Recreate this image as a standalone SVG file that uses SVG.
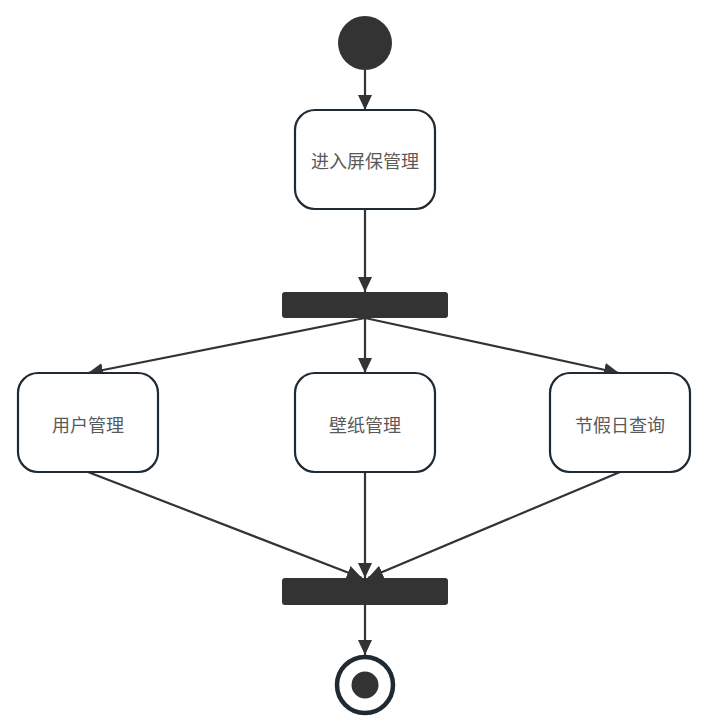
<svg xmlns="http://www.w3.org/2000/svg" width="720" height="723" viewBox="0 0 720 723">
<defs>
<style>
.act{fill:#ffffff;stroke:#1f2a33;stroke-width:2.2}
.bar{fill:#333333}
.lbl{font-family:"Noto Sans CJK SC","Liberation Sans",sans-serif;font-size:18px;fill:#5a5a5a;text-anchor:middle;dominant-baseline:central}
.edge{stroke:#333333;stroke-width:2.2;fill:none;marker-end:url(#arr)}
</style>
<marker id="arr" markerUnits="userSpaceOnUse" markerWidth="15" markerHeight="14" viewBox="0 0 15 14" refX="15" refY="7" orient="auto">
<path d="M0,0 L15,7 L0,14 Z" fill="#333333"/>
</marker>
</defs>
<rect width="720" height="723" fill="#ffffff"/>
<g id="connectors">
<line class="edge" x1="365" y1="70" x2="365" y2="110"/>
<line class="edge" x1="365" y1="209" x2="365" y2="292"/>
<line class="edge" x1="365" y1="318" x2="88" y2="373"/>
<line class="edge" x1="365" y1="318" x2="365" y2="373"/>
<line class="edge" x1="365" y1="318" x2="619" y2="373"/>
<line class="edge" x1="88" y1="472" x2="362" y2="578"/>
<line class="edge" x1="365" y1="472" x2="365" y2="578"/>
<line class="edge" x1="620" y1="472" x2="368" y2="578"/>
<line class="edge" x1="365" y1="605" x2="365" y2="655"/>
</g>
<g id="start"><circle cx="365" cy="43" r="27" fill="#333333"/></g>
<g id="enter"><rect class="act" x="295" y="110" width="140" height="99" rx="20"/><text class="lbl" x="365" y="160">进入屏保管理</text></g>
<g id="fork"><rect class="bar" x="282" y="292" width="166" height="26" rx="3"/></g>
<g id="user"><rect class="act" x="18" y="373" width="140" height="99" rx="20"/><text class="lbl" x="88" y="424">用户管理</text></g>
<g id="wallpaper"><rect class="act" x="295" y="373" width="140" height="99" rx="20"/><text class="lbl" x="365" y="424">壁纸管理</text></g>
<g id="holiday"><rect class="act" x="550" y="373" width="140" height="99" rx="20"/><text class="lbl" x="620" y="424">节假日查询</text></g>
<g id="join"><rect class="bar" x="282" y="578" width="166" height="27" rx="3"/></g>
<g id="end"><circle cx="365" cy="685" r="28" fill="#ffffff" stroke="#1f2a33" stroke-width="4.5"/><circle cx="365" cy="685" r="13.5" fill="#333333"/></g>
</svg>
